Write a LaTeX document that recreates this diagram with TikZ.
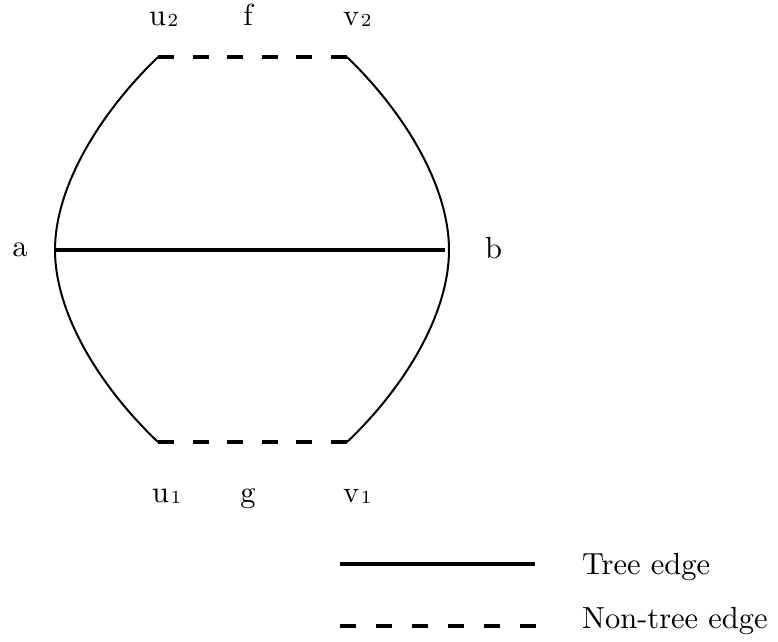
\documentclass[tikz,border=0pt]{standalone}
\font\labfont=cmr10 at 30.5pt
\font\subfont=cmr7 at 18.5pt
\newcommand\lsub[1]{\kern1.5pt\lower1.5pt\hbox{\subfont #1}}
\begin{document}
\begin{tikzpicture}[x=1pt,y=-1pt,
  lbl/.style={inner sep=0pt,font=\labfont,anchor=base west},
  lblc/.style={inner sep=0pt,font=\labfont,anchor=base},
  treeedge/.style={line width=3.5pt},
  curveedge/.style={line width=2pt},
  nontree/.style={line width=4pt,dash pattern=on 16pt off 18.6pt},
  legdash/.style={line width=4pt,dash pattern=on 16pt off 20pt}]
\useasboundingbox (0,0) rectangle (778,641);
\coordinate (u2) at (158,57);
\coordinate (v2) at (347,57);
\coordinate (a) at (55,250);
\coordinate (b) at (449,250);
\coordinate (bb) at (445,250);
\coordinate (u1) at (158,442);
\coordinate (v1) at (347,442);
\node[lbl] (lu2) at (149,25) {u\lsub{2}};
\node[lblc] (lf) at (248,25) {f};
\node[lbl] (lv2) at (343,25) {v\lsub{2}};
\node[lbl] (lu1) at (152,502) {u\lsub{1}};
\node[lblc] (lg) at (248,502) {g};
\node[lbl] (lv1) at (343,502) {v\lsub{1}};
\node[lbl] (la) at (12,256) {a};
\node[lbl] (lb) at (485,258) {b};
\draw[nontree] (u2) -- (v2);
\draw[nontree] (u1) -- (v1);
\draw[curveedge] (u2) .. controls (98,115) and (55,188) .. (a)
  .. controls (55,312) and (98,385) .. (u1);
\draw[curveedge] (v2) .. controls (407,115) and (449,188) .. (b)
  .. controls (449,312) and (407,385) .. (v1);
\draw[treeedge] (a) -- (bb);
\coordinate (t1) at (340,564);
\coordinate (t2) at (535,564);
\coordinate (n1) at (340,626);
\coordinate (n2) at (536,626);
\draw[line width=4pt] (t1) -- (t2);
\draw[legdash] (n1) -- (n2);
\node[lbl] (ltree) at (582,574.5) {Tree edge};
\node[lbl] (lnon) at (582,628) {Non-tree edge};
\end{tikzpicture}
\end{document}
